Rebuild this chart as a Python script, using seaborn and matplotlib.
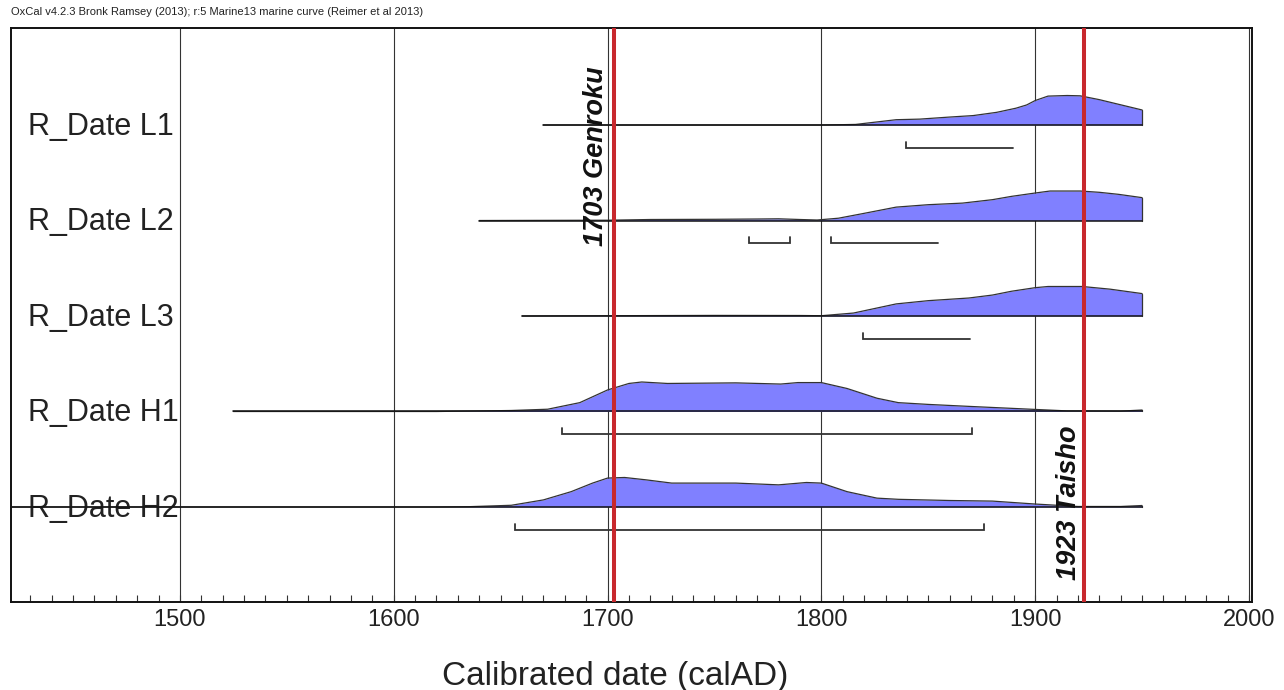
import numpy as np
import pandas as pd
import matplotlib
matplotlib.use("Agg")
import matplotlib.pyplot as plt
from matplotlib.ticker import MultipleLocator
import seaborn as sns

sns.set_theme(style="white")
plt.rcParams['font.family'] = ['Liberation Sans', 'DejaVu Sans']

# ---------------- data ----------------
title = "OxCal v4.2.3 Bronk Ramsey (2013); r:5 Marine13 marine curve (Reimer et al 2013)"
row_labels = ["R_Date L1", "R_Date L2", "R_Date L3", "R_Date H1", "R_Date H2"]

L1_years = [1670, 1800, 1816, 1835, 1846, 1860, 1871, 1882, 1891, 1896, 1900, 1906, 1915, 1921, 1930, 1938, 1950]
L1_prob = [0, 0, 0.02, 0.18, 0.20, 0.27, 0.32, 0.43, 0.57, 0.68, 0.83, 0.98, 1.0, 0.99, 0.86, 0.72, 0.51]

L2_years = [1640, 1700, 1720, 1750, 1770, 1780, 1790, 1798, 1808, 1819, 1835, 1850, 1866, 1880, 1889, 1900, 1907, 1921, 1930, 1939, 1950]
L2_prob = [0, 0.01, 0.034, 0.041, 0.051, 0.058, 0.034, 0.017, 0.078, 0.229, 0.454, 0.536, 0.59, 0.706, 0.819, 0.932, 1.0, 1.0, 0.956, 0.887, 0.775]

L3_years = [1660, 1700, 1750, 1790, 1800, 1815, 1835, 1850, 1869, 1880, 1889, 1900, 1906, 1922, 1935, 1950]
L3_prob = [0, 0.01, 0.02, 0.017, 0.01, 0.10, 0.41, 0.52, 0.61, 0.71, 0.84, 0.96, 1.0, 1.0, 0.91, 0.76]

H1_years = [1525, 1620, 1655, 1672, 1687, 1700, 1710, 1716, 1728, 1760, 1781, 1789, 1800, 1812, 1826, 1836, 1850, 1870, 1900, 1915, 1940, 1950]
H1_prob = [0, 0, 0.034, 0.077, 0.30, 0.73, 0.95, 1.0, 0.95, 0.97, 0.93, 0.98, 0.98, 0.78, 0.45, 0.30, 0.24, 0.17, 0.07, 0.02, 0.013, 0.05]

H2_years = [1420, 1620, 1635, 1655, 1670, 1683, 1693, 1700, 1708, 1718, 1730, 1760, 1780, 1793, 1800, 1812, 1826, 1836, 1860, 1880, 1900, 1920, 1940, 1950]
H2_prob = [0, 0, 0.01, 0.058, 0.24, 0.52, 0.81, 0.98, 1.0, 0.92, 0.81, 0.81, 0.75, 0.83, 0.81, 0.52, 0.30, 0.26, 0.22, 0.20, 0.10, 0.017, 0.017, 0.05]

# 95.4% ranges: (start, end, right-end tick?)
L1_ranges = [(1839.5, 1889.5, False)]
L2_ranges = [(1766, 1785.5, True), (1804.5, 1854.5, False)]
L3_ranges = [(1819.5, 1869.5, False)]
H1_ranges = [(1678.5, 1870.5, True)]
H2_ranges = [(1656.5, 1876, True)]

events_year = [1703, 1923]
events_label = ["1703 Genroku", "1923 Taisho"]

x_ticks = [1500, 1600, 1700, 1800, 1900, 2000]
x_label = "Calibrated date (calAD)"

rows = [(L1_years, L1_prob, L1_ranges), (L2_years, L2_prob, L2_ranges),
        (L3_years, L3_prob, L3_ranges), (H1_years, H1_prob, H1_ranges),
        (H2_years, H2_prob, H2_ranges)]

# ---------------- figure ----------------
W, H = 1284, 690
fig = plt.figure(figsize=(W / 100, H / 100), dpi=100)
ax = fig.add_axes([11 / W, 1 - 602 / H, (1252 - 11) / W, (602 - 28) / H])
ax.set_xlim(1421, 2001.4)
ax.set_ylim(5.995, -0.016)

peak_h = 0.309
fill_col = "#8080FF"
edge_col = "#333333"

for i, (yrs, prob, ranges) in enumerate(rows):
    base = i + 1
    df = pd.DataFrame({"year": yrs, "prob": prob})
    df["y"] = base - df["prob"] * peak_h
    ax.fill_between(df["year"], base, df["y"], color=fill_col, lw=0, zorder=2)
    sns.lineplot(data=df, x="year", y="y", color=edge_col, lw=0.9,
                 sort=False, estimator=None, ax=ax, zorder=3)
    # closing vertical edge at end
    ax.plot([yrs[-1], yrs[-1]], [base, df["y"].iloc[-1]], color=edge_col, lw=0.9, zorder=3)
    # baseline
    ax.plot([yrs[0], yrs[-1]], [base, base], color="#111111", lw=1.1, zorder=3)
    # ranges
    by = base + 0.24
    tk = 0.065
    for (a, b, rt) in ranges:
        xs = [a, a, b]
        ys = [by - tk, by, by]
        if rt:
            xs.append(b)
            ys.append(by - tk)
        ax.plot(xs, ys, color="#333333", lw=1.3, zorder=3, solid_joinstyle="miter")
    ax.text(0.0137, base + 0.02, row_labels[i], transform=ax.get_yaxis_transform(),
            fontsize=22, color="#222222", ha="left", va="center", zorder=1)

# event lines
for yr in events_year:
    ax.axvline(yr, color="#C8282D", lw=2.9, zorder=5)

ax.text(1694.8, 2.27, events_label[0], rotation=90, fontsize=19.5, fontweight="bold",
        fontstyle="italic", ha="center", va="bottom", color="#111111", zorder=6)
ax.text(1916.0, 5.765, events_label[1], rotation=90, fontsize=19.5, fontweight="bold",
        fontstyle="italic", ha="center", va="bottom", color="#111111", zorder=6)

# axes styling
ax.set_xlabel("")
ax.set_ylabel("")
ax.set_xticks(x_ticks)
ax.set_xticklabels([str(t) for t in x_ticks])
ax.xaxis.set_minor_locator(MultipleLocator(10))
ax.set_yticks([])
ax.grid(True, axis="x", which="major", color="#333333", lw=0.8, zorder=0)
ax.set_axisbelow(True)
ax.tick_params(axis="x", which="both", direction="in", bottom=True, top=False,
               length=5, width=0.8, color="#333333")
ax.tick_params(axis="x", which="major", labelsize=17, labelcolor="#222222", pad=5)
for s in ax.spines.values():
    s.set_color("#111111")
    s.set_linewidth(1.4)

fig.text(11 / W, 1 - 12 / H, title, fontsize=8.0, color="#222222", ha="left", va="center")
fig.text(615 / W, 1 - 677 / H, x_label, fontsize=24, color="#222222", ha="center", va="center")

fig.savefig("out.png", dpi=100)
